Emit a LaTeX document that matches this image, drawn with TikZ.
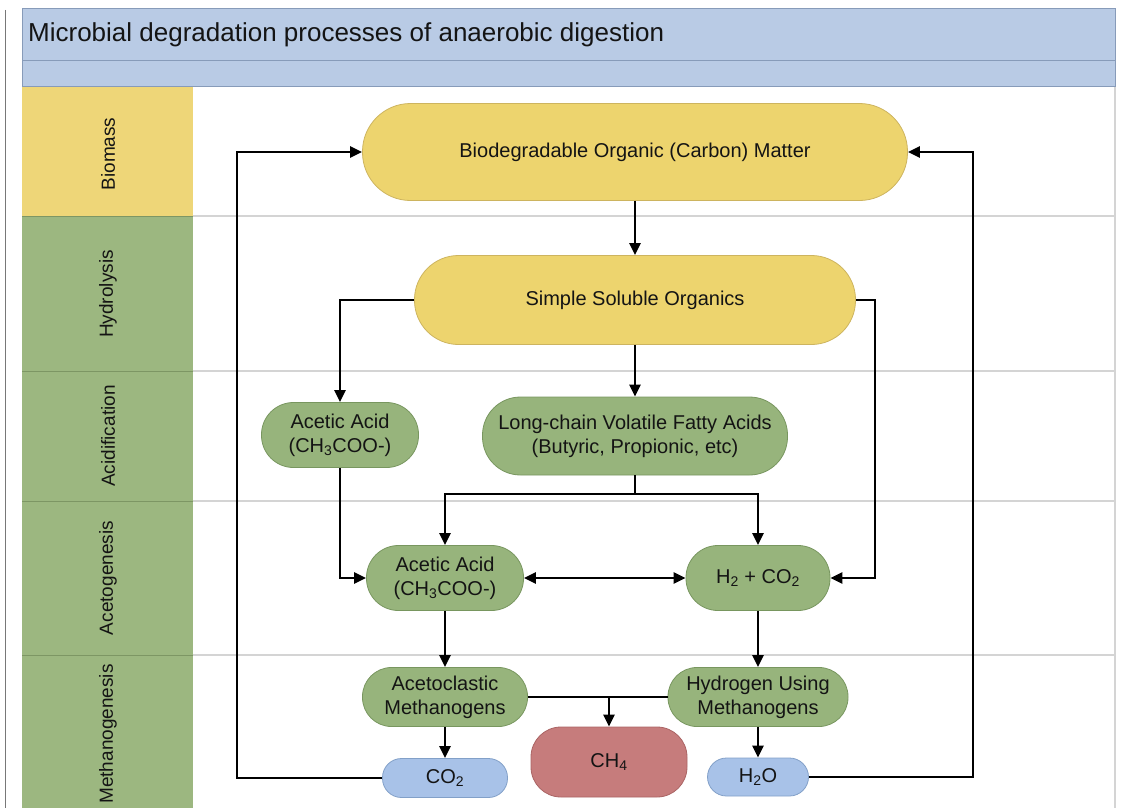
\documentclass[tikz,border=0pt]{standalone}
\usepackage{fontspec}
\setmainfont{Liberation Sans}
\usepackage{xcolor}
\usepackage{tikz}
\usetikzlibrary{arrows.meta, positioning, calc}
\definecolor{ADHeaderBlue}{RGB}{185, 203, 229}
\definecolor{ADHeaderEdge}{RGB}{135, 155, 185}
\definecolor{ADLaneYellow}{RGB}{238, 214, 120}
\definecolor{ADLaneGreen}{RGB}{156, 183, 128}
\definecolor{ADLaneEdge}{RGB}{125, 150, 100}
\definecolor{ADNodeYellow}{RGB}{237, 212, 110}
\definecolor{ADNodeYellowEdge}{RGB}{205, 180, 95}
\definecolor{ADNodeGreen}{RGB}{151, 180, 124}
\definecolor{ADNodeGreenEdge}{RGB}{120, 150, 95}
\definecolor{ADNodeBlue}{RGB}{168, 194, 232}
\definecolor{ADNodeBlueEdge}{RGB}{130, 160, 200}
\definecolor{ADNodeRed}{RGB}{198, 124, 124}
\definecolor{ADNodeRedEdge}{RGB}{170, 100, 100}
\definecolor{ADGrid}{RGB}{212, 212, 212}
\definecolor{ADPageEdge}{RGB}{120, 120, 120}
\definecolor{ADTextDark}{RGB}{20, 20, 20}

\tikzset{
  pill/.style={rectangle, rounded corners=#1, line width=0.8pt, align=center,
    inner sep=2pt, text=ADTextDark, font=\fontsize{20}{24}\selectfont},
  yellowpill/.style={pill=#1, fill=ADNodeYellow, draw=ADNodeYellowEdge},
  greenpill/.style={pill=#1, fill=ADNodeGreen, draw=ADNodeGreenEdge},
  bluepill/.style={pill=#1, fill=ADNodeBlue, draw=ADNodeBlueEdge},
  redpill/.style={pill=#1, fill=ADNodeRed, draw=ADNodeRedEdge},
  lanelabel/.style={rotate=90, text=ADTextDark, font=\fontsize{19}{22}\selectfont},
  flow/.style={line width=2.7pt, -{Triangle[length=12pt, width=11pt]}},
  link/.style={line width=2.7pt}
}

\begin{document}
\begin{tikzpicture}[x=1pt, y=-1pt]
  \useasboundingbox (0,0) rectangle (1122,808);

  % page edge and header
  \draw[ADPageEdge, line width=1pt] (5,10) -- (5,808);
  \filldraw[fill=ADHeaderBlue, draw=ADHeaderEdge, line width=1pt] (22,9) rectangle (1115,61);
  \filldraw[fill=ADHeaderBlue, draw=ADHeaderEdge, line width=1pt] (22,61) rectangle (1115,87);
  \node[anchor=west, inner sep=0pt, text=ADTextDark, font=\fontsize{26}{30}\selectfont]
    (title) at (28,35) {Microbial degradation processes of anaerobic digestion};

  % swim lanes
  \fill[ADLaneYellow] (22,87) rectangle (193,216);
  \fill[ADLaneGreen] (22,216) rectangle (193,808);
  \foreach \y in {216, 371, 501, 655} {
    \draw[ADLaneEdge, line width=1pt] (22,\y) -- (193,\y);
    \draw[ADGrid, line width=1.5pt] (193,\y) -- (1115,\y);
  }
  \draw[ADGrid, line width=1.5pt] (1115,87) -- (1115,808);

  \node[lanelabel] (lnBiomass) at (108,154) {Biomass};
  \node[lanelabel] (lnHydrolysis) at (108,294) {Hydrolysis};
  \node[lanelabel] (lnAcidification) at (108,436) {Acidification};
  \node[lanelabel] (lnAcetogenesis) at (108,578) {Acetogenesis};
  \node[lanelabel] (lnMethanogenesis) at (108,734) {Methanogenesis};

  % process nodes
  \node[yellowpill=48pt, minimum width=545pt, minimum height=97pt] (matter) at (635,152)
    {Biodegradable Organic (Carbon) Matter};
  \node[yellowpill=44pt, minimum width=441pt, minimum height=89pt] (soluble) at (635,300)
    {Simple Soluble Organics};
  \node[greenpill=32pt, minimum width=157pt, minimum height=65pt] (acidA) at (340,435)
    {Acetic Acid\\(CH\textsubscript{3}COO-)};
  \node[greenpill=38pt, minimum width=305pt, minimum height=78pt] (vfa) at (635,436)
    {Long-chain Volatile Fatty Acids\\(Butyric, Propionic, etc)};
  \node[greenpill=32pt, minimum width=157pt, minimum height=65pt] (acidB) at (445,578)
    {Acetic Acid\\(CH\textsubscript{3}COO-)};
  \node[greenpill=32pt, minimum width=144pt, minimum height=65pt] (hydco) at (758,578)
    {H\textsubscript{2} + CO\textsubscript{2}};
  \node[greenpill=29pt, minimum width=165pt, minimum height=59pt] (aceto) at (445,697)
    {Acetoclastic\\Methanogens};
  \node[greenpill=29pt, minimum width=180pt, minimum height=59pt] (hydro) at (758,697)
    {Hydrogen Using\\Methanogens};
  \node[bluepill=19pt, minimum width=125pt, minimum height=39pt] (co2) at (445,778)
    {CO\textsubscript{2}};
  \node[redpill=30pt, minimum width=156pt, minimum height=70pt] (ch4) at (609,762)
    {CH\textsubscript{4}};
  \node[bluepill=19pt, minimum width=101pt, minimum height=38pt] (h2o) at (758,777)
    {H\textsubscript{2}O};

  % bends of the connectors
  \coordinate (loopL) at (237,0);
  \coordinate (loopR) at (973,0);
  \coordinate (sideR) at (875,0);
  \coordinate (split) at (635,494);
  \coordinate (methane) at (609,697);

  % connectors
  \draw[flow] (matter) -- (soluble);
  \draw[flow] (soluble.west) -| (acidA.north);
  \draw[flow] (soluble) -- (vfa);
  \draw[flow] (soluble.east) -- (soluble.east -| sideR) -- (hydco.east -| sideR) -- (hydco.east);
  \draw[link] (vfa.south) -- (split);
  \draw[flow] (split) -| (acidB.north);
  \draw[flow] (split) -| (hydco.north);
  \draw[flow] (acidA.south) |- (acidB.west);
  \draw[flow, {Triangle[length=12pt, width=11pt]}-{Triangle[length=12pt, width=11pt]}] (acidB.east) -- (hydco.west);
  \draw[flow] (acidB) -- (aceto);
  \draw[flow] (hydco) -- (hydro);
  \draw[link] (aceto.east) -- (hydro.west);
  \draw[flow] (methane) -- (ch4.north);
  \draw[flow] (aceto) -- (co2);
  \draw[flow] (hydro) -- (h2o);
  \draw[flow] (co2.west) -- (co2.west -| loopL) -- (loopL |- matter.west) -- (matter.west);
  \draw[flow] (h2o.east) -- (h2o.east -| loopR) -- (loopR |- matter.east) -- (matter.east);
\end{tikzpicture}
\end{document}
